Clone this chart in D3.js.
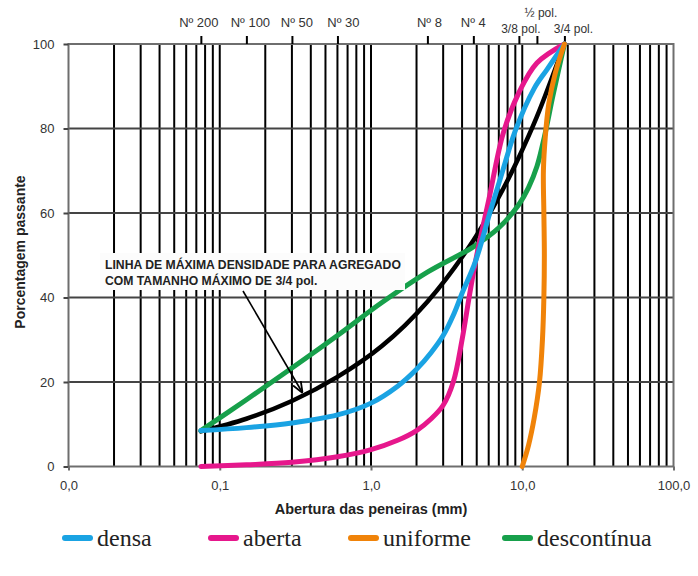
<!DOCTYPE html>
<html>
<head>
<meta charset="utf-8">
<script src="https://cdn.jsdelivr.net/npm/d3@7"></script>
<style>
  html, body { margin: 0; padding: 0; background: #fff; }
  svg { display: block; }
  .sans { font-family: "Liberation Sans", Arial, sans-serif; }
  .serif { font-family: "Liberation Serif", "Times New Roman", serif; }
</style>
</head>
<body>
<svg id="chart" class="sans" width="698" height="576"></svg>
<script>
// Sieve openings (mm) and the percentage passing for each gradation type
const densaSize  = [0.075, 0.15, 0.3, 0.6, 1.0, 1.5, 2.0, 2.5, 3.0, 3.5, 4.0, 4.9, 6.1, 7.5, 9.0, 12.0, 14.6, 19];
const densaPass  = [8.5, 9.2, 10.3, 12.2, 15, 19, 23, 27, 31, 35.8, 41, 48.5, 60, 70.5, 79.5, 89.5, 94, 100];

const abertaSize = [0.075, 0.15, 0.3, 0.6, 1.0, 1.5, 2.0, 2.5, 3.0, 3.5, 4.0, 4.5, 5.0, 6.0, 7.5, 9.5, 12.5, 19];
const abertaPass = [0, 0.4, 1.0, 2.3, 4, 6.2, 8.5, 11.3, 14.5, 20, 30, 41, 50, 63, 79, 88.5, 95.5, 100];

const uniformeSize = [10, 11, 12, 13, 13.6, 13.9, 14.0, 13.9, 13.8, 14.2, 15, 16.5, 19];
const uniformePass = [0, 5, 11.5, 20, 30, 40, 50, 60, 70, 78, 86, 93, 100];

const descontSize = [0.075, 0.15, 0.3, 0.6, 1.18, 2.36, 4.75, 7.0, 9.5, 11, 12.5, 14, 16, 19];
const descontPass = [8.5, 15.8, 23.3, 31, 38.8, 46, 52, 56.5, 62, 66, 71, 78, 88, 100];

const fullerSize = [0.075, 0.15, 0.3, 0.6, 1.18, 2.36, 4.75, 7.5, 9.5, 12.5, 19];
const fullerPass = [8.3, 11.3, 15.5, 21.2, 28.5, 39, 53.5, 65.8, 73.2, 82.8, 100];

// Sieve designations shown along the top edge
const sieveSize  = [0.075, 0.15, 0.3, 0.6, 2.36, 4.75, 9.5, 12.5, 19];
const sieveLabel = ["Nº 200", "Nº 100", "Nº 50", "Nº 30", "Nº 8", "Nº 4", "3/8 pol.", "½ pol.", "3/4 pol."];

const xTicks      = [0.01, 0.1, 1, 10, 100];
const xTickLabels = ["0,0", "0,1", "1,0", "10,0", "100,0"];
const yTicks      = [0, 20, 40, 60, 80, 100];

const seriesNames  = ["densa", "aberta", "uniforme", "descontínua"];
const seriesColors = ["#1aa3e3", "#e6178c", "#f08309", "#17a04b"];

const svg = d3.select("#chart");
const x = d3.scaleLog().domain([0.01, 100]).range([68.5, 673.5]);
const y = d3.scaleLinear().domain([0, 100]).range([466.5, 44]);

// Logarithmic vertical grid: 2..9 within every decade
const gridX = [];
[0.01, 0.1, 1, 10].forEach(d => { for (let k = 2; k <= 10; k++) gridX.push(d * k); });
gridX.pop();
svg.append("g").selectAll("line").data(gridX).join("line")
  .attr("x1", d => x(d)).attr("x2", d => x(d))
  .attr("y1", y(100)).attr("y2", y(0))
  .attr("stroke", "#000").attr("stroke-width", 2);

// Horizontal grid lines
svg.append("g").selectAll("line").data(yTicks.slice(1, -1)).join("line")
  .attr("x1", x(0.01)).attr("x2", x(100))
  .attr("y1", d => y(d)).attr("y2", d => y(d))
  .attr("stroke", "#444").attr("stroke-width", 2);

// Frame
svg.append("rect")
  .attr("x", x(0.01)).attr("y", y(100))
  .attr("width", x(100) - x(0.01)).attr("height", y(0) - y(100))
  .attr("fill", "none").attr("stroke", "#6e6e6e").attr("stroke-width", 2);

// Left axis
const yAxis = svg.append("g").attr("transform", `translate(${x(0.01)},0)`)
  .call(d3.axisLeft(y).tickValues(yTicks).tickSize(5).tickPadding(9));
yAxis.select(".domain").remove();
yAxis.selectAll(".tick line").attr("stroke", "#444").attr("stroke-width", 2);
yAxis.selectAll("text").attr("font-size", 13).attr("fill", "#333").attr("font-family", null);

// Bottom axis
const xAxis = svg.append("g").attr("transform", `translate(0,${y(0)})`)
  .call(d3.axisBottom(x).tickValues(xTicks).tickSize(4).tickPadding(10)
    .tickFormat((d, i) => xTickLabels[i]));
xAxis.select(".domain").remove();
xAxis.selectAll(".tick line").attr("stroke", "#6e6e6e").attr("stroke-width", 2);
xAxis.selectAll("text").attr("font-size", 13).attr("fill", "#333");

// Top axis with sieve designations
const topAxis = svg.append("g").attr("transform", `translate(0,${y(100)})`)
  .call(d3.axisTop(x).tickValues(sieveSize).tickSize(8).tickFormat(""));
topAxis.select(".domain").remove();
topAxis.selectAll(".tick line").attr("stroke", "#000").attr("stroke-width", 2);
const labelShift = [-2, 4, 5, 6, 2, 0, 2, 4, 9];
svg.append("g").selectAll("text").data(sieveSize).join("text")
  .attr("x", (d, i) => x(d) + labelShift[i])
  .attr("y", (d, i) => i === 7 ? 17 : (i >= 6 ? 33 : 27))
  .attr("text-anchor", "middle")
  .attr("font-size", (d, i) => i >= 6 ? 12 : 13)
  .attr("fill", "#333")
  .text((d, i) => sieveLabel[i]);

// Axis titles
svg.append("text")
  .attr("x", x(1)).attr("y", 514)
  .attr("text-anchor", "middle")
  .attr("font-size", 14.5).attr("font-weight", "bold").attr("fill", "#222")
  .text("Abertura das peneiras (mm)");
svg.append("text")
  .attr("transform", "translate(25,252) rotate(-90)")
  .attr("text-anchor", "middle")
  .attr("font-size", 14).attr("font-weight", "bold").attr("fill", "#222")
  .text("Porcentagem passante");

// Gradation curves
const line = d3.line()
  .x(d => x(d[0])).y(d => y(d[1]))
  .curve(d3.curveCatmullRom.alpha(0.5));
const zip = (a, b) => a.map((v, i) => [v, b[i]]);

const curves = [
  { pts: zip(fullerSize, fullerPass), color: "#000", w: 4.5 },
  { pts: zip(descontSize, descontPass), color: seriesColors[3], w: 5 },
  { pts: zip(abertaSize, abertaPass), color: seriesColors[1], w: 5 },
  { pts: zip(densaSize, densaPass), color: seriesColors[0], w: 5 },
  { pts: zip(uniformeSize, uniformePass), color: seriesColors[2], w: 5 }
];
svg.append("g").selectAll("path").data(curves).join("path")
  .attr("d", d => line(d.pts))
  .attr("fill", "none")
  .attr("stroke", d => d.color)
  .attr("stroke-width", d => d.w)
  .attr("stroke-linecap", "round")
  .attr("stroke-linejoin", "round");

// Annotation for the maximum-density line
const note = svg.append("g");
note.append("rect")
  .attr("x", 100).attr("y", 253).attr("width", 305).attr("height", 37)
  .attr("fill", "#fcfcfc");
note.append("text")
  .attr("x", 105).attr("y", 269)
  .attr("font-size", 12.2).attr("font-weight", "bold").attr("fill", "#222")
  .text("LINHA DE MÁXIMA DENSIDADE PARA AGREGADO");
note.append("text")
  .attr("x", 105).attr("y", 285)
  .attr("font-size", 12.2).attr("font-weight", "bold").attr("fill", "#222")
  .text("COM TAMANHO MÁXIMO DE 3/4 pol.");

svg.append("defs").append("marker")
  .attr("id", "arrow").attr("viewBox", "0 0 10 10")
  .attr("refX", 9).attr("refY", 5)
  .attr("markerWidth", 7).attr("markerHeight", 7)
  .attr("orient", "auto")
  .append("path").attr("d", "M0,1 L10,5 L0,9").attr("fill", "none")
  .attr("stroke", "#000").attr("stroke-width", 1.6);
note.append("line")
  .attr("x1", 243).attr("y1", 291)
  .attr("x2", 302).attr("y2", 392)
  .attr("stroke", "#000").attr("stroke-width", 1.6)
  .attr("marker-end", "url(#arrow)");

// Legend
const legendX = [63, 209, 349, 503];
const legend = svg.append("g").selectAll("g").data(seriesNames).join("g")
  .attr("transform", (d, i) => `translate(${legendX[i]},538)`);
legend.append("line")
  .attr("x1", 2).attr("x2", 27).attr("y1", 0).attr("y2", 0)
  .attr("stroke", (d, i) => seriesColors[i]).attr("stroke-width", 6)
  .attr("stroke-linecap", "round");
legend.append("text")
  .attr("class", "serif")
  .attr("x", 34).attr("y", 8)
  .attr("font-size", 24).attr("fill", "#222")
  .text(d => d);
</script>
</body>
</html>
